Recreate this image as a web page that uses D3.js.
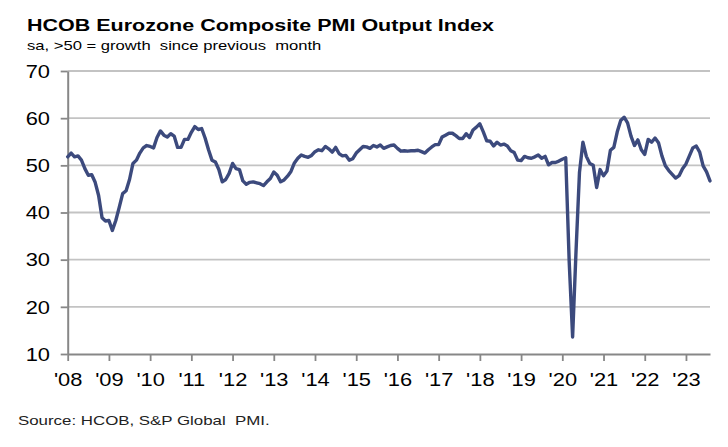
<!DOCTYPE html>
<html>
<head>
<meta charset="utf-8">
<script src="https://cdn.jsdelivr.net/npm/d3@7"></script>
<style>
  html, body { margin: 0; padding: 0; background: #fff; }
  svg { display: block; }
  text { font-family: "Liberation Sans", Arial, sans-serif; }
</style>
</head>
<body>
<svg id="chart" width="728" height="447"></svg>
<script>
// ---- Data: HCOB Eurozone Composite PMI Output Index (monthly, sa) ----
const startYear = 2008;
const pmi2008 = [51.8, 52.6, 51.8, 52.0, 51.1, 49.3, 47.9, 48.0, 46.4, 43.6, 38.9, 38.2];
const pmi2009 = [38.3, 36.2, 38.3, 41.1, 44.0, 44.6, 47.0, 50.4, 51.1, 52.6, 53.7, 54.2];
const pmi2010 = [54.0, 53.7, 55.9, 57.3, 56.4, 56.0, 56.7, 56.2, 53.8, 53.8, 55.5, 55.5];
const pmi2011 = [57.0, 58.2, 57.6, 57.8, 55.8, 53.3, 51.1, 50.7, 49.1, 46.5, 47.0, 48.3];
const pmi2012 = [50.4, 49.3, 49.1, 46.7, 46.0, 46.4, 46.5, 46.3, 46.1, 45.7, 46.5, 47.2];
const pmi2013 = [48.6, 47.9, 46.5, 46.9, 47.7, 48.7, 50.5, 51.5, 52.2, 51.9, 51.7, 52.1];
const pmi2014 = [52.9, 53.3, 53.1, 54.0, 53.5, 52.8, 53.8, 52.5, 52.0, 52.1, 51.1, 51.4];
const pmi2015 = [52.6, 53.3, 54.0, 53.9, 53.6, 54.2, 53.9, 54.3, 53.6, 53.9, 54.2, 54.3];
const pmi2016 = [53.6, 53.0, 53.1, 53.0, 53.1, 53.1, 53.2, 52.9, 52.6, 53.3, 53.9, 54.4];
const pmi2017 = [54.4, 56.0, 56.4, 56.8, 56.8, 56.3, 55.7, 55.7, 56.7, 55.9, 57.5, 58.1];
const pmi2018 = [58.8, 57.1, 55.2, 55.1, 54.1, 54.9, 54.3, 54.5, 54.1, 53.1, 52.7, 51.1];
const pmi2019 = [51.0, 51.9, 51.6, 51.5, 51.8, 52.2, 51.5, 51.9, 50.1, 50.6, 50.6, 50.9];
const pmi2020 = [51.3, 51.6, 29.7, 13.6, 31.9, 48.5, 54.9, 51.9, 50.4, 50.0, 45.3, 49.1];
const pmi2021 = [47.8, 48.8, 53.2, 53.8, 57.1, 59.5, 60.2, 59.0, 56.2, 54.2, 55.4, 53.3];
const pmi2022 = [52.3, 55.5, 54.9, 55.8, 54.8, 52.0, 49.9, 48.9, 48.1, 47.3, 47.8, 49.3];
const pmi2023 = [50.3, 52.0, 53.7, 54.1, 52.8, 49.9, 48.6, 46.7];

const yearLabels = ["'08","'09","'10","'11","'12","'13","'14","'15","'16","'17","'18","'19","'20","'21","'22","'23"];
const yTicks = [10, 20, 30, 40, 50, 60, 70];

const titleText = "HCOB Eurozone Composite PMI Output Index";
const subtitleText = "sa, >50 = growth\u00A0 since previous\u00A0 month";
const sourceText = "Source: HCOB, S&P Global\u00A0 PMI.";

// ---- Build series ----
const series = [].concat(pmi2008, pmi2009, pmi2010, pmi2011, pmi2012, pmi2013, pmi2014,
  pmi2015, pmi2016, pmi2017, pmi2018, pmi2019, pmi2020, pmi2021, pmi2022, pmi2023)
  .map((v, i) => ({ m: i, v }));

// ---- Layout ----
const svg = d3.select("#chart");
const SX = 1.25; // horizontal text stretch as in reference
const plotLeft = 67.7, plotRight = 710, plotTop = 71, plotBottom = 354;

const x = d3.scaleLinear().domain([0, series.length - 1]).range([plotLeft, plotRight]);
const y = d3.scaleLinear().domain([10, 70]).range([plotBottom, plotTop]);

// Gridlines
svg.append("g")
  .selectAll("line")
  .data(yTicks.filter(t => t > 10))
  .join("line")
  .attr("x1", plotLeft).attr("x2", plotRight)
  .attr("y1", d => y(d)).attr("y2", d => y(d))
  .attr("stroke", "#c3c3c3")
  .attr("stroke-width", 1.8);

// Y axis
const yAxis = svg.append("g")
  .attr("transform", `translate(${plotLeft},0)`)
  .call(d3.axisLeft(y).tickValues(yTicks).tickSize(7).tickSizeOuter(0).tickFormat(d3.format("d")));
yAxis.select(".domain").attr("stroke", "#878787").attr("stroke-width", 2);
yAxis.selectAll(".tick line").attr("stroke", "#878787").attr("stroke-width", 1.8);
yAxis.selectAll(".tick text")
  .attr("x", -(plotLeft - 50) / SX)
  .attr("dy", "0.36em")
  .attr("transform", `scale(${SX},1)`)
  .attr("font-size", 17.5)
  .attr("font-family", "Liberation Sans, Arial, sans-serif")
  .attr("fill", "#000");

// X axis
const xTickVals = yearLabels.map((d, i) => i * 12);
const xAxis = svg.append("g")
  .attr("transform", `translate(0,${plotBottom})`)
  .call(d3.axisBottom(x).tickValues(xTickVals).tickSize(7).tickSizeOuter(0)
    .tickFormat((d, i) => yearLabels[i]));
xAxis.select(".domain").attr("stroke", "#878787").attr("stroke-width", 2);
xAxis.selectAll(".tick line").attr("stroke", "#878787").attr("stroke-width", 1.8);
xAxis.selectAll(".tick text")
  .attr("y", 32)
  .attr("dy", 0)
  .attr("transform", `scale(${SX},1)`)
  .attr("font-size", 17.5)
  .attr("font-family", "Liberation Sans, Arial, sans-serif")
  .attr("fill", "#000");

// Line
const line = d3.line().x(d => x(d.m)).y(d => y(d.v));
svg.append("path")
  .datum(series)
  .attr("d", line)
  .attr("fill", "none")
  .attr("stroke", "#3c4a7d")
  .attr("stroke-width", 3.4)
  .attr("stroke-linejoin", "round")
  .attr("stroke-linecap", "round");

// Titles
svg.append("text")
  .attr("transform", `translate(27,31) scale(1.265,1)`)
  .attr("font-size", 17)
  .attr("font-weight", "bold")
  .attr("fill", "#000")
  .text(titleText);

svg.append("text")
  .attr("transform", `translate(27,50) scale(1.23,1)`)
  .attr("font-size", 13.5)
  .attr("fill", "#000")
  .text(subtitleText);

svg.append("text")
  .attr("transform", `translate(18,425) scale(${SX},1)`)
  .attr("font-size", 13.5)
  .attr("fill", "#222")
  .text(sourceText);
</script>
</body>
</html>
